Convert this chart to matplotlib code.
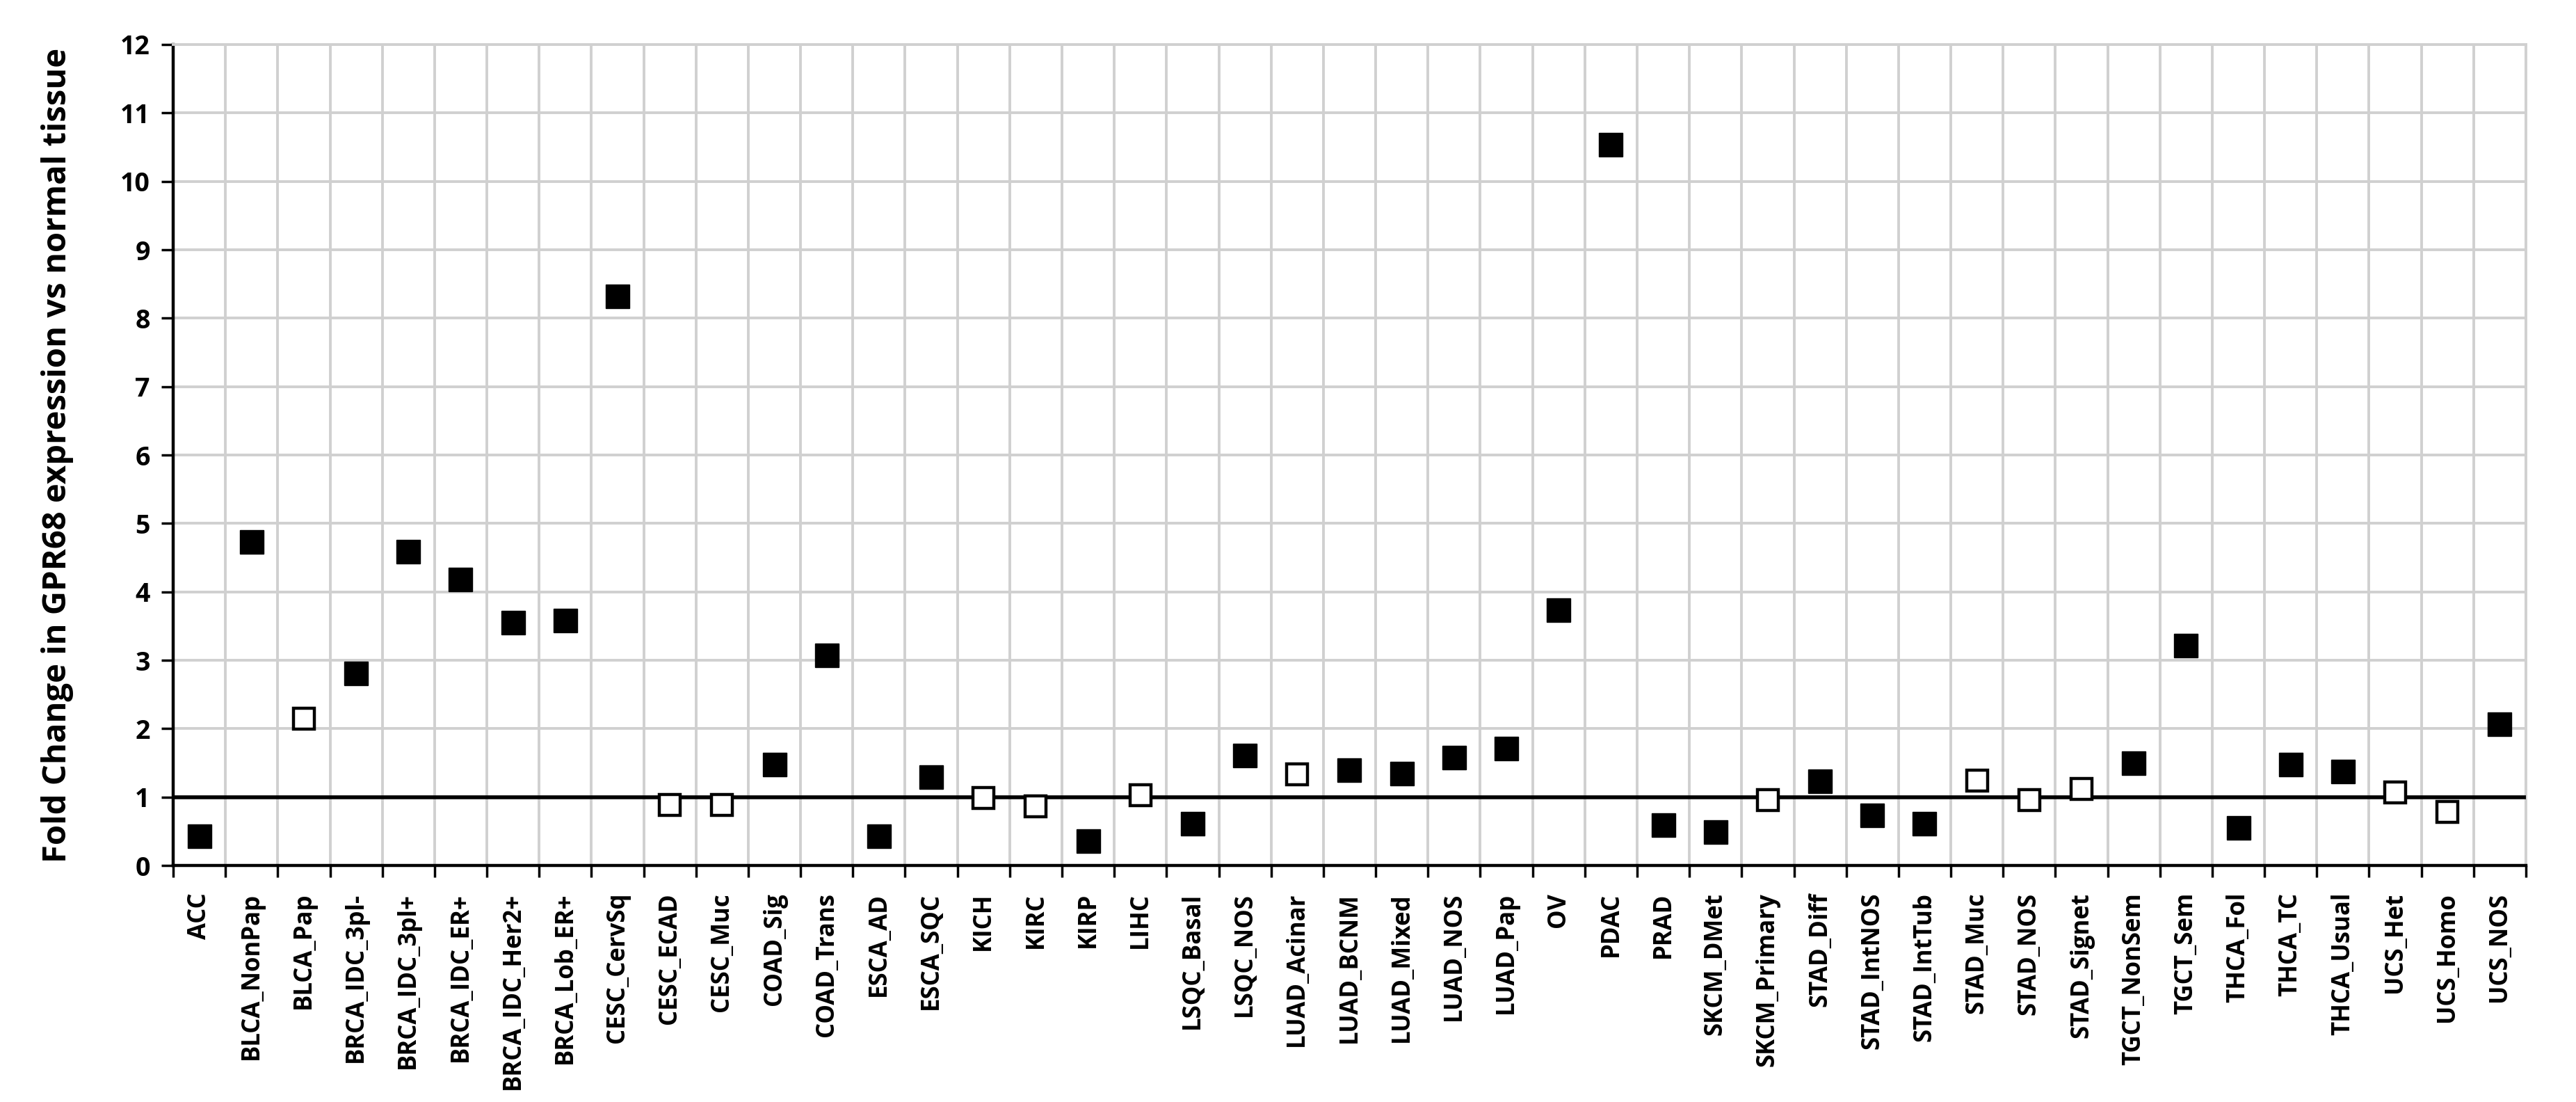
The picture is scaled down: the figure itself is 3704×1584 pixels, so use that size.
import numpy as np
import matplotlib.pyplot as plt
from matplotlib.ticker import FixedLocator, MultipleLocator

plt.rcParams["font.family"] = ["Open Sans", "DejaVu Sans"]

# Data
cancer_types = [
    "ACC", "BLCA_NonPap", "BLCA_Pap", "BRCA_IDC_3pl-", "BRCA_IDC_3pl+",
    "BRCA_IDC_ER+", "BRCA_IDC_Her2+", "BRCA_Lob_ER+", "CESC_CervSq", "CESC_ECAD",
    "CESC_Muc", "COAD_Sig", "COAD_Trans", "ESCA_AD", "ESCA_SQC",
    "KICH", "KIRC", "KIRP", "LIHC", "LSQC_Basal",
    "LSQC_NOS", "LUAD_Acinar", "LUAD_BCNM", "LUAD_Mixed", "LUAD_NOS",
    "LUAD_Pap", "OV", "PDAC", "PRAD", "SKCM_DMet",
    "SKCM_Primary", "STAD_Diff", "STAD_IntNOS", "STAD_IntTub", "STAD_Muc",
    "STAD_NOS", "STAD_Signet", "TGCT_NonSem", "TGCT_Sem", "THCA_Fol",
    "THCA_TC", "THCA_Usual", "UCS_Het", "UCS_Homo", "UCS_NOS",
]
fold_change = [
    0.43, 4.73, 2.15, 2.81, 4.59,
    4.18, 3.55, 3.58, 8.32, 0.89,
    0.89, 1.48, 3.07, 0.43, 1.29,
    0.99, 0.87, 0.36, 1.03, 0.61,
    1.61, 1.33, 1.39, 1.34, 1.58,
    1.71, 3.73, 10.54, 0.59, 0.49,
    0.96, 1.23, 0.73, 0.61, 1.24,
    0.96, 1.12, 1.50, 3.21, 0.55,
    1.48, 1.37, 1.07, 0.78, 2.06,
]
# significant = filled square, not significant = open square
significant = [
    1, 1, 0, 1, 1,
    1, 1, 1, 1, 0,
    0, 1, 1, 1, 1,
    0, 0, 1, 0, 1,
    1, 0, 1, 1, 1,
    1, 1, 1, 1, 1,
    0, 1, 1, 1, 0,
    0, 0, 1, 1, 1,
    1, 1, 0, 0, 1,
]

x = np.arange(len(cancer_types))
y = np.array(fold_change)
sig = np.array(significant, dtype=bool)

GRID = "#d0d0d0"

fig = plt.figure(figsize=(37.05, 15.84), dpi=100)
ax = fig.add_axes([0.0672, 0.2146, 0.9131, 0.745])

ax.plot(x[sig], y[sig], linestyle="none", marker="s", markersize=24,
        markerfacecolor="black", markeredgecolor="black", zorder=4)
ax.plot(x[~sig], y[~sig], linestyle="none", marker="s", markersize=22,
        markerfacecolor="white", markeredgecolor="black", markeredgewidth=3.2,
        zorder=4)

ax.axhline(1, color="black", linewidth=4, zorder=3)

ax.set_xlim(-0.5, len(cancer_types) - 0.5)
ax.set_ylim(0, 12)

# ticks: labels centred on categories, tick marks on boundaries
ax.set_xticks(x)
ax.set_xticklabels(cancer_types, rotation=90, fontsize=25, fontweight="bold")
ax.xaxis.set_minor_locator(FixedLocator(np.arange(-0.5, len(cancer_types), 1)))
ax.tick_params(axis="x", which="major", length=0, pad=28)
ax.tick_params(axis="x", which="minor", length=12, width=2.5, direction="out")
ax.yaxis.set_major_locator(MultipleLocator(1))
ax.tick_params(axis="y", length=12, width=2.5, direction="out", pad=12,
               labelsize=27)
for lab in ax.get_yticklabels():
    lab.set_fontweight("bold")

ax.grid(True, axis="x", which="minor", color=GRID, linewidth=2.8)
ax.grid(True, axis="y", which="major", color=GRID, linewidth=2.8)
ax.set_axisbelow(True)

for side in ["left", "bottom"]:
    ax.spines[side].set_color("black")
    ax.spines[side].set_linewidth(3.2)
for side in ["top", "right"]:
    ax.spines[side].set_color(GRID)
    ax.spines[side].set_linewidth(2.8)

ax.set_ylabel("Fold Change in GPR68 expression vs normal tissue",
              fontsize=34, fontweight="bold", labelpad=48)

fig.savefig("out.png", dpi=100)
